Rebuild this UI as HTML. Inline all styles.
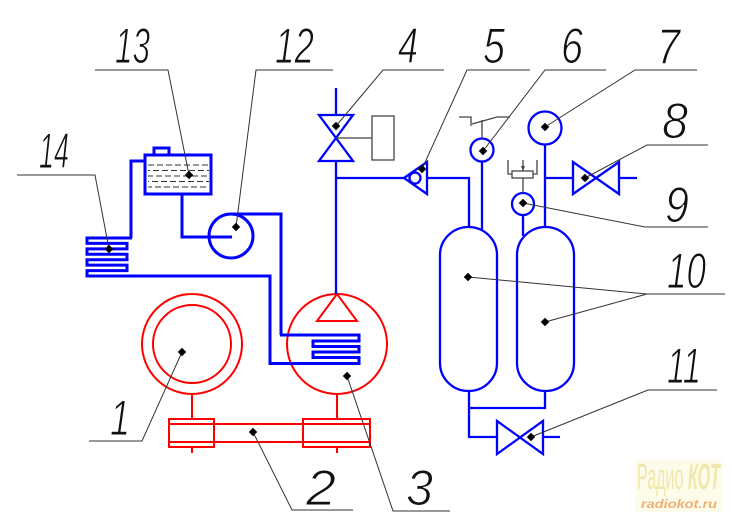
<!DOCTYPE html>
<html>
<head>
<meta charset="utf-8">
<style>
html,body{margin:0;padding:0;background:#fff;}
svg{display:block;}
</style>
</head>
<body>
<svg width="732" height="520" viewBox="0 0 732 520" xmlns="http://www.w3.org/2000/svg">
<rect width="732" height="520" fill="#fff"/>

<!-- ========== RED: motor, compressor, belt ========== -->
<g fill="none" stroke="#ff0000" stroke-width="2">
  <circle cx="192" cy="344" r="50"/>
  <circle cx="192" cy="344" r="39"/>
  <circle cx="337" cy="344" r="50"/>
  <polygon points="337,294 317,321 357,321"/>
  <line x1="192" y1="394" x2="192" y2="419"/>
  <line x1="337" y1="394" x2="337" y2="419"/>
  <line x1="192" y1="447" x2="192" y2="453"/>
  <line x1="337" y1="447" x2="337" y2="453"/>
  <rect x="169" y="419" width="45" height="28"/>
  <rect x="303" y="419" width="67" height="28"/>
  <rect x="169" y="424" width="201" height="18"/>
</g>

<!-- ========== BLUE thick (left circuit) ========== -->
<g fill="none" stroke="#0000ff" stroke-width="3" stroke-linejoin="miter">
  <rect x="145" y="155" width="66" height="39"/>
  <polyline points="154,155 154,148 169,148 169,155"/>
  <polyline points="146,161 131,161 131,238"/>
  <polyline points="132,238 87,238 87,243.4 127,243.4 127,248.9 87,248.9 87,254.3 127,254.3 127,259.7 87,259.7 87,265.1 127,265.1 127,270.6 87,270.6 87,276 270,276 270,363.5"/>
  <polyline points="182,194 182,237 232,237"/>
  <circle cx="231" cy="236" r="22"/>
  <polyline points="231,214 281,214 281,335"/>
  <polyline points="280,335 359,335 359,341 313,341 313,346.5 359,346.5 359,352 313,352 313,357.5 359,357.5 359,363.5 268.5,363.5"/>
</g>

<!-- ========== BLUE thinner (right circuit) ========== -->
<g fill="none" stroke="#0000ff" stroke-width="2.3">
  <line x1="336" y1="88" x2="336" y2="115"/>
  <polygon points="319,115 353,115 336,138"/>
  <polygon points="319,161 353,161 336,138"/>
  <line x1="336" y1="161" x2="336" y2="294"/>
  <line x1="336" y1="178" x2="404" y2="178"/>
  <polygon points="404,178 427,162 427,194"/>
  <circle cx="415" cy="178" r="5.5"/>
  <polyline points="427,178 469,178 469,228"/>
  <circle cx="482" cy="150" r="11.5"/>
  <line x1="482" y1="161.5" x2="482" y2="231"/>
  <rect x="440" y="227" width="57" height="164" rx="28.5" ry="28"/>
  <rect x="517" y="227" width="57" height="164" rx="28.5" ry="28"/>
  <circle cx="545" cy="128" r="16.5"/>
  <line x1="545" y1="144.5" x2="545" y2="227"/>
  <line x1="545" y1="178" x2="573" y2="178"/>
  <polygon points="573,162 573,194 596,178"/>
  <polygon points="619,162 619,194 596,178"/>
  <line x1="619" y1="178" x2="637" y2="178"/>
  <circle cx="523" cy="204" r="11"/>
  <line x1="523" y1="215" x2="523" y2="236"/>
  <polyline points="469,391 469,408 545,408 545,391"/>
  <polyline points="469,408 469,437 497,437"/>
  <polygon points="497,421 497,454 520,437.5"/>
  <polygon points="543,421 543,454 520,437.5"/>
  <line x1="543" y1="437" x2="560" y2="437"/>
</g>

<!-- ========== Dark gray thin details ========== -->
<g fill="none" stroke="#444" stroke-width="1.3">
  <line x1="336" y1="138" x2="372" y2="138"/>
  <rect x="372" y="116" width="22" height="44"/>
  <polyline points="459,117 471,117 471,126"/>
  <polyline points="472,124 497,117 510,117"/>
  <line x1="482" y1="120" x2="482" y2="138.5"/>
  <rect x="512" y="171" width="21" height="7"/>
  <polyline points="508,160 508,174 512,174"/>
  <polyline points="537,160 537,174 533,174"/>
  <line x1="523" y1="160" x2="523" y2="171"/>
  <line x1="523" y1="178" x2="523" y2="193"/>
</g>
<polygon points="521,166 525,166 523,171" fill="#444"/>

<g stroke="#333" stroke-width="1.1" stroke-dasharray="6 3">
  <line x1="148" y1="165" x2="209" y2="165" stroke-dashoffset="0"/>
  <line x1="148" y1="170.5" x2="209" y2="170.5" stroke-dashoffset="4"/>
  <line x1="148" y1="176" x2="209" y2="176" stroke-dashoffset="1"/>
  <line x1="148" y1="181.5" x2="209" y2="181.5" stroke-dashoffset="5"/>
  <line x1="148" y1="187" x2="209" y2="187" stroke-dashoffset="2"/>
</g>

<!-- ========== Leader lines ========== -->
<g fill="none" stroke="#333" stroke-width="1">
  <polyline points="95,70 168,70 189,175"/>
  <polyline points="333,70 256,70 236,227"/>
  <polyline points="17,175 95,175 109,249"/>
  <polyline points="444,70 383,70 336,126"/>
  <polyline points="530,70 467,70 422,169"/>
  <polyline points="606,70 545,70 483,151"/>
  <polyline points="697,70 635,70 545,127"/>
  <polyline points="708,145 647,145 585,178"/>
  <polyline points="708,227 645,227 523,203"/>
  <polyline points="725,294 647,294 468,277"/>
  <line x1="647" y1="294" x2="545" y2="322"/>
  <polyline points="717,390 648,390 531,437"/>
  <polyline points="89,441 142,441 182,352"/>
  <polyline points="353,510 292,510 253,432"/>
  <polyline points="450,511 393,511 347,376"/>
</g>

<g fill="#000">
  <rect x="-3" y="-3" width="6" height="6" transform="translate(189,175) rotate(45)"/>
  <rect x="-3" y="-3" width="6" height="6" transform="translate(236,227) rotate(45)"/>
  <rect x="-3" y="-3" width="6" height="6" transform="translate(109,249) rotate(45)"/>
  <rect x="-3" y="-3" width="6" height="6" transform="translate(336,126) rotate(45)"/>
  <rect x="-3" y="-3" width="6" height="6" transform="translate(422,169) rotate(45)"/>
  <rect x="-3" y="-3" width="6" height="6" transform="translate(483,151) rotate(45)"/>
  <rect x="-3" y="-3" width="6" height="6" transform="translate(545,127) rotate(45)"/>
  <rect x="-3" y="-3" width="6" height="6" transform="translate(585,178) rotate(45)"/>
  <rect x="-3" y="-3" width="6" height="6" transform="translate(523,203) rotate(45)"/>
  <rect x="-3" y="-3" width="6" height="6" transform="translate(468,277) rotate(45)"/>
  <rect x="-3" y="-3" width="6" height="6" transform="translate(545,322) rotate(45)"/>
  <rect x="-3" y="-3" width="6" height="6" transform="translate(531,437) rotate(45)"/>
  <rect x="-3" y="-3" width="6" height="6" transform="translate(182,352) rotate(45)"/>
  <rect x="-3" y="-3" width="6" height="6" transform="translate(253,432) rotate(45)"/>
  <rect x="-3" y="-3" width="6" height="6" transform="translate(347,376) rotate(45)"/>
</g>

<!-- ========== Labels ========== -->
<g font-family="'Liberation Sans', sans-serif" font-style="italic" font-size="50" fill="#111" stroke="#fff" stroke-width="1.1">
  <text x="115" y="63" textLength="35" lengthAdjust="spacingAndGlyphs">13</text>
  <text x="275" y="63" textLength="39" lengthAdjust="spacingAndGlyphs">12</text>
  <text x="398" y="63" textLength="20" lengthAdjust="spacingAndGlyphs">4</text>
  <text x="483" y="63" textLength="22" lengthAdjust="spacingAndGlyphs">5</text>
  <text x="561" y="63" textLength="22" lengthAdjust="spacingAndGlyphs">6</text>
  <text x="657" y="64" textLength="23" lengthAdjust="spacingAndGlyphs">7</text>
  <text x="662" y="138" textLength="26" lengthAdjust="spacingAndGlyphs">8</text>
  <text x="665" y="222" textLength="24" lengthAdjust="spacingAndGlyphs">9</text>
  <text x="667" y="288" textLength="39" lengthAdjust="spacingAndGlyphs">10</text>
  <text x="667" y="383" textLength="34" lengthAdjust="spacingAndGlyphs">11</text>
  <text x="39" y="168" textLength="30" lengthAdjust="spacingAndGlyphs">14</text>
  <text x="110" y="435" textLength="20" lengthAdjust="spacingAndGlyphs">1</text>
  <text x="306" y="505" textLength="30" lengthAdjust="spacingAndGlyphs">2</text>
  <text x="406" y="505" textLength="27" lengthAdjust="spacingAndGlyphs">3</text>
</g>

<!-- ========== Watermark ========== -->
<rect x="635" y="460" width="87" height="52" fill="#fdfbea"/>
<text x="637" y="489" font-family="'Liberation Sans', sans-serif" font-size="36" fill="#f1e7ad" textLength="83" lengthAdjust="spacingAndGlyphs">Радио <tspan font-style="italic" font-weight="bold">КОТ</tspan></text>
<text x="641" y="508" font-family="'Liberation Sans', sans-serif" font-style="italic" font-weight="bold" font-size="12" fill="#eeaf74" textLength="76" lengthAdjust="spacingAndGlyphs">radiokot.ru</text>
</svg>
</body>
</html>
